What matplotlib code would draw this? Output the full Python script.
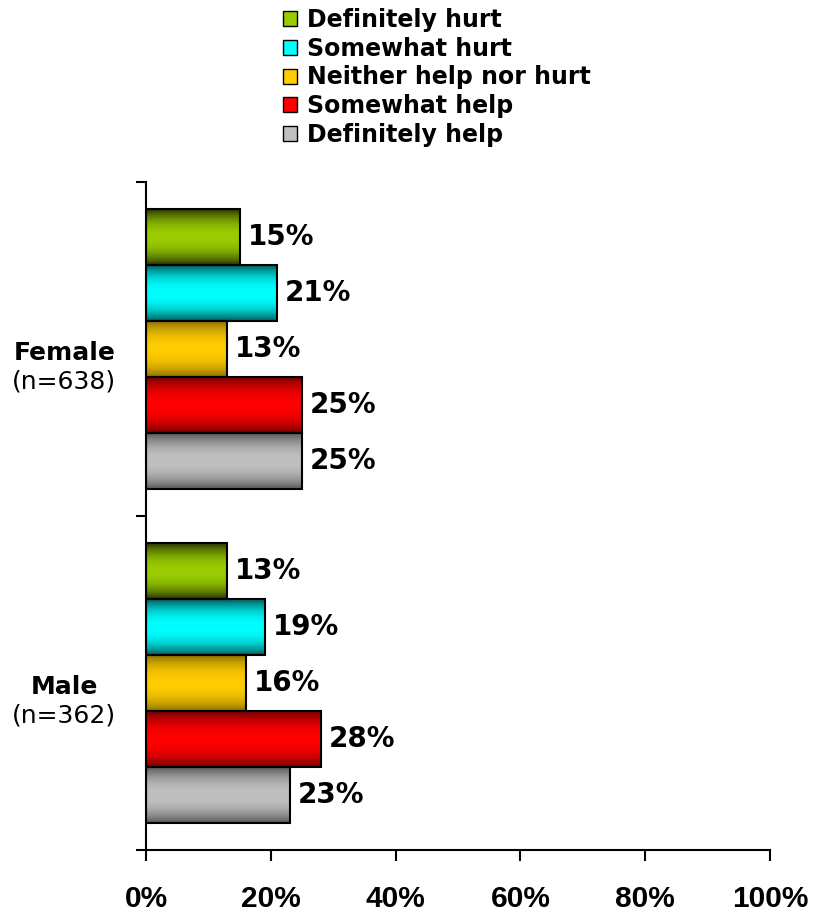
import numpy as np
import matplotlib.pyplot as plt
from matplotlib.patches import Patch
from matplotlib.colors import to_rgb

groups = ['Female', 'Male']
group_n = ['(n=638)', '(n=362)']
series = ['Definitely hurt', 'Somewhat hurt', 'Neither help nor hurt',
          'Somewhat help', 'Definitely help']
values = {
    'Definitely hurt': [15, 13],
    'Somewhat hurt': [21, 19],
    'Neither help nor hurt': [13, 16],
    'Somewhat help': [25, 28],
    'Definitely help': [25, 23],
}
colors = ['#99cc00', '#00ffff', '#ffcc00', '#ff0000', '#c0c0c0']
edge_dark = [0.25, 0.35, 0.55, 0.45, 0.45]

plt.rcParams['font.family'] = ['DejaVu Sans']

fig = plt.figure(figsize=(8.14, 9.14), dpi=100)
ax = fig.add_axes([146 / 814, 64 / 914, 624 / 814, 668 / 914])

n = len(series)
h = 280 / 334 / n
y = np.arange(len(groups))

# vertical gradient: dark at edges, bright in the middle
t = np.linspace(0, 1, 200)
prof = np.abs(2 * t - 1) ** 2.2

for i, name in enumerate(series):
    pos = y + (i - (n - 1) / 2) * h
    bars = ax.barh(pos, values[name], height=h, color='none',
                   edgecolor='black', linewidth=1.5, zorder=3)
    base = np.array(to_rgb(colors[i]))
    k = edge_dark[i]
    grad = base[None, :] * (1 - (1 - k) * prof[:, None])
    img = np.repeat(grad[:, None, :], 2, axis=1)
    for b, v in zip(bars, values[name]):
        x0, y0 = b.get_x(), b.get_y()
        ax.imshow(img, extent=[x0, x0 + b.get_width(), y0 + b.get_height(), y0],
                  aspect='auto', zorder=2, interpolation='bilinear')
        ax.text(v + 1.3, y0 + b.get_height() / 2, f'{v}%', va='center',
                ha='left', fontsize=20, fontweight='bold', zorder=4)

ax.set_xlim(0, 100)
ax.set_ylim(len(groups) - 0.5, -0.5)
ax.set_xticks(np.arange(0, 101, 20))
ax.set_xticklabels([f'{v}%' for v in range(0, 101, 20)],
                   fontsize=21.5, fontweight='bold', family='Liberation Sans')
ax.set_yticks(np.arange(-0.5, len(groups), 1.0))
ax.set_yticklabels([])
ax.tick_params(axis='x', direction='out', length=8, width=1.5, pad=17)
ax.tick_params(axis='y', direction='out', length=7, width=1.5)
for s in ['top', 'right']:
    ax.spines[s].set_visible(False)
for s in ['left', 'bottom']:
    ax.spines[s].set_linewidth(1.5)
ax.set_aspect('auto')

for g, nlab, yy in zip(groups, group_n, y):
    ax.text(-0.131, yy + 0.012, g, transform=ax.get_yaxis_transform(),
            ha='center', va='center', fontsize=18, fontweight='bold')
    ax.text(-0.131, yy + 0.097, nlab, transform=ax.get_yaxis_transform(),
            ha='center', va='center', fontsize=18)

handles = [Patch(facecolor=c, edgecolor='black', linewidth=1) for c in colors]
fig.legend(handles, series, loc='upper left',
           bbox_to_anchor=(283 / 814, 1 - 8 / 914),
           frameon=False, prop={'size': 17, 'weight': 'bold'},
           handlelength=0.6, handleheight=0.6, handletextpad=0.42,
           labelspacing=0.2, borderaxespad=0, borderpad=0)

fig.savefig('out.png', dpi=100)
